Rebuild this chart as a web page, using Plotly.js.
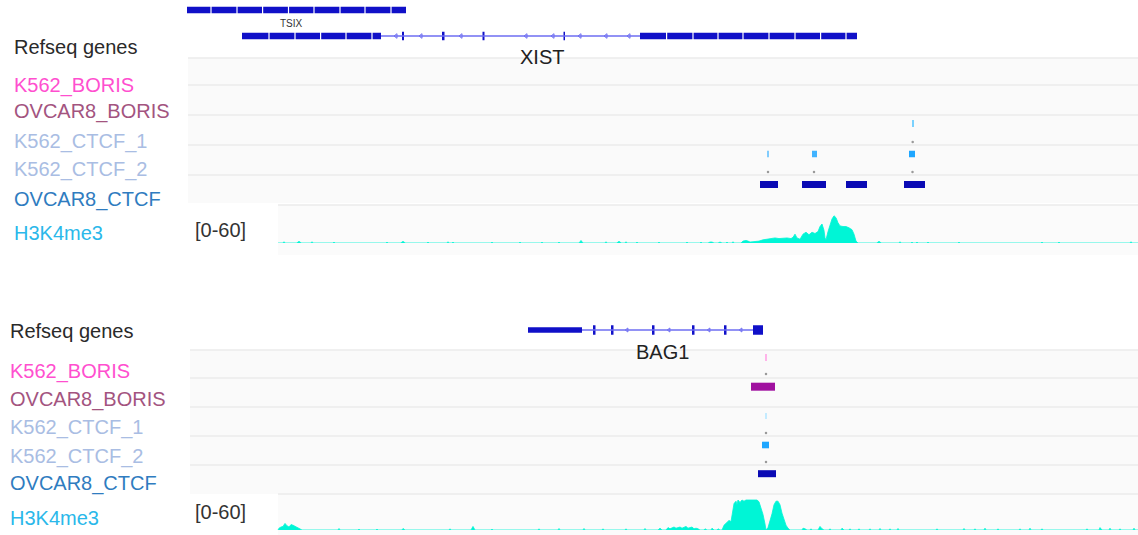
<!DOCTYPE html>
<html><head><meta charset="utf-8">
<script src="https://cdn.plot.ly/plotly-3.0.1.min.js"></script>
<style>html,body{margin:0;padding:0;background:#fff}#chart{width:1138px;height:535px}</style>
</head><body><div id="chart"></div>
<script>
// ---------------- DATA (positions along each locus) ----------------
const trackNames = ["K562_BORIS","OVCAR8_BORIS","K562_CTCF_1","K562_CTCF_2","OVCAR8_CTCF"];
const signalName = "H3K4me3";
const signalRange = "[0-60]";

// Locus 1: XIST / TSIX
const tsixThickStart = [187];
const tsixThickEnd   = [406];
const tsixArrows     = [211,237,262.6,288.5,314,340,365,391];
const xistThickStart = [242,640];
const xistThickEnd   = [381,857];
const xistExonStart  = [402,442,482.5,563.5];
const xistExonEnd    = [404,444.5,484.5,565];
const xistIntron     = [381,640];
const xistStrandArrows = [269,295,320.6,346,372,666.6,693,718,743,769,795,820.6,846];
const xistIntronArrows = [396,421,461,526,553,580,606,629];

const top_K562_BORIS_start = [], top_K562_BORIS_end = [];
const top_OVCAR8_BORIS_start = [], top_OVCAR8_BORIS_end = [];
const top_K562_CTCF_1_start = [912], top_K562_CTCF_1_end = [914], top_K562_CTCF_1_score = [0.75];
const top_K562_CTCF_2_start = [767,812,909], top_K562_CTCF_2_end = [769,817,915], top_K562_CTCF_2_score = [0.55,0.85,1];
const top_OVCAR8_CTCF_start = [760,802,846,904], top_OVCAR8_CTCF_end = [778,826,867,925];
const topSummitsCTCF1 = [912.7];
const topSummitsCTCF2 = [768,814,912.5];

const topSignalPos = [278,283,284,285,289,297,298,300,301,311,312,313,333,334,335,386,387,388,401,402,404,405,427,428,429,447,448,449,452,453,454,491,492,493,519,520,521,541,542,543,558,559,560,579,581,583,605,606,607,617,618,620,621,625,626,627,636,637,638,658,659,660,686,687,688,700,701,702,
  708,710,712,714,718,720,722,726,727,728,732,733,734,741,743,746,748,750,753,756,759,763,767,771,775,779,783,787,791,793,795,797,800,803,806,809,812,815,818,820,822,824,825,826,828,830,832,834,836,838,840,843,846,849,852,854,856,858,
  877,878,880,881,899,900,901,911,912,913,916,917,918,927,928,929,958,959,960,1041,1042,1043,1058,1059,1060,1130,1131,1132,1138];
const topSignalVal = [0,0,2,0,0,0,2,2,0,0,2,0,0,1.5,0,0,1.5,0,0,2,2,0,0,1.5,0,0,2,0,0,1.5,0,0,1.5,0,0,1.5,0,0,1.5,0,0,1.5,0,0,4,0,0,2,0,0,2,2,0,0,2,0,0,1.5,0,0,1.5,0,0,1.5,0,0,1.5,0,
  0,1.5,1.5,0,0,1.5,0,0,1.5,0,0,2,0,0,3,4,3,1.5,2,2,3,5,6,7,8,7,8,8,7,9,14,8,6,14,17,13,17,15,18,26,30,20,8,5,18,30,38,43,40,32,27,26,26,24,21,14,3,0,
  0,2,2,0,0,2,0,0,1.5,0,0,1.5,0,0,1.5,0,0,1.5,0,0,1.5,0,0,1.5,0,0,2,0,0];

// Locus 2: BAG1
const bag1UtrStart  = [528];
const bag1UtrEnd    = [582];
const bag1ExonStart = [593,611,652,692,724,753];
const bag1ExonEnd   = [595.5,613.5,654.5,694.5,726.5,763];
const bag1Intron    = [582,753];
const bag1IntronArrows = [627,669,709,741];

const bot_K562_BORIS_start = [765], bot_K562_BORIS_end = [767];
const bot_OVCAR8_BORIS_start = [751], bot_OVCAR8_BORIS_end = [775];
const bot_K562_CTCF_1_start = [765], bot_K562_CTCF_1_end = [767];
const bot_K562_CTCF_2_start = [762], bot_K562_CTCF_2_end = [769];
const bot_OVCAR8_CTCF_start = [758], bot_OVCAR8_CTCF_end = [776];
const botSummitsBORIS = [766], botSummitsCTCF1 = [766], botSummitsCTCF2 = [766];

const botSignalPos = [278,279,281,283,285,287,289,291,293,295,297,299,302,338,339,340,358,359,360,376,377,378,402,403,405,449,450,451,471,473,475,491,492,493,538,539,540,558,559,560,583,584,585,602,603,604,625,626,627,644,645,646,
  658,660,662,666,668,670,672,674,676,678,680,682,684,686,688,690,692,694,696,698,700,704,705,707,711,712,714,717,718,720,
  722,724,727,729,731,733,734,736,737,738,740,742,744,746,750,754,757,759,761,763,765,766,768,770,772,774,776,778,780,782,784,786,788,790,
  802,803,805,807,810,811,812,818,820,822,824,829,830,831,841,842,844,849,850,851,858,859,860,869,870,871,879,880,881,889,890,891,897,898,899,936,937,938,963,964,965,974,975,976,984,985,986,997,998,999,1019,1020,1021,1029,1030,1031,1041,1042,1043,1086,1087,1088,1099,1100,1102,1109,1110,1111,1119,1120,1121,1133,1134,1135,1138];
const botSignalVal = [0,3,5,6,11,7,5,9,8,6,4,2,0,0,2.5,0,0,1.5,0,0,1.5,0,0,2.5,0,0,2,0,0,6,0,0,1.5,0,0,2,0,0,2.5,0,0,2.5,0,0,2,0,0,2,0,0,2.5,0,
  0,3,0,0,4,2,3,5,3,4,5,3,4,6,3,4,5,2,3,2,0,0,2,0,0,3,0,0,2,0,
  0,8,12,16,14,30,44,48,42,50,46,50,48,50,50,50,50,47,38,26,10,0,4,14,27,42,48,48,42,28,16,8,3,0,
  0,3,2,0,0,2,0,0,6,2,0,0,2,0,0,3,0,0,2,0,0,2,0,0,2,0,0,2.5,0,0,2,0,0,2.5,0,0,2,0,0,2.5,0,0,2,0,0,3,0,0,2,0,0,2,0,0,3,0,0,2,0,0,2,0,0,4,0,0,3,0,0,2,0,0,3,0,0];

// ---------------- STYLE / LAYOUT ----------------
const W = 1138, H = 535;
const FONT = "Liberation Sans, Arial, sans-serif";
const GENE = "#1010c8", INTRON = "#6e6ef2", SIG = "#00f5d6";
const labelColors = {"Refseq genes":"#2a2a2a","K562_BORIS":"#ff4fcf","OVCAR8_BORIS":"#a3547f",
  "K562_CTCF_1":"#a9bde3","K562_CTCF_2":"#a9bde3","OVCAR8_CTCF":"#2f7cc0","H3K4me3":"#2ab8ea"};
const featColors = {"K562_BORIS":"#ffb4ea","OVCAR8_BORIS":"#a0109f","K562_CTCF_1":"#4fc3ff","K562_CTCF_2":"#1ea6ff","OVCAR8_CTCF":"#0a0ab4"};

const panels = [
  {xa:'x', labelX:12, geneLabelY:46.7, labelY:[85,111.7,141.7,169.3,199.3], sigLabelY:232.7, rangeY:230,
   rows:[[58,85],[85,115],[115,145],[145,175],[175,203]], rowX:188, sigRow:[205,255], sigBase:243, sigTop:205,
   featY:[0,0,123.5,154,184.5], featH:[7,8,7,6.5,7]},
  {xa:'x2', labelX:8, geneLabelY:330.7, labelY:[371.7,399.3,427.3,456,483.3], sigLabelY:518.3, rangeY:512,
   rows:[[350,378],[378,407],[407,436],[436,465],[465,494]], rowX:190, sigRow:[494,535], sigBase:530, sigTop:494,
   featY:[357.5,386.7,416,445,473.7], featH:[7,8,6,6.6,7]}
];

const traces = [];
function bars(xa, starts, ends, yc, h, color, opac){
  traces.push({type:'bar', orientation:'h', xaxis:xa, yaxis:'y', base:starts,
    x:starts.map((s,i)=>ends[i]-s), y:starts.map(()=>yc), width:h,
    marker:{color:color, opacity:opac||1, line:{width:0}}, hoverinfo:'skip', showlegend:false});
}
function line(xa, pts, yc, color, w){
  traces.push({type:'scatter', mode:'lines', xaxis:xa, yaxis:'y', x:pts, y:pts.map(()=>yc),
    line:{color:color, width:w}, hoverinfo:'skip', showlegend:false});
}
function marks(xa, pts, yc, sym, size, color, lw){
  traces.push({type:'scatter', mode:'markers', xaxis:xa, yaxis:'y', x:pts, y:pts.map(()=>yc),
    marker:{symbol:sym, size:size, color:color, line:{color:color, width:lw}}, hoverinfo:'skip', showlegend:false});
}

// Genes, locus 1
bars('x', tsixThickStart, tsixThickEnd, 10, 6.5, GENE);
marks('x', tsixArrows, 10, 'line-ns', 6, '#ffffff', 1.2);
line('x', xistIntron, 36, INTRON, 1.6);
marks('x', xistIntronArrows, 36, 'triangle-left-open', 4, INTRON, 1);
bars('x', xistThickStart, xistThickEnd, 36, 6.5, GENE);
bars('x', xistExonStart, xistExonEnd, 36, 8.5, GENE);
marks('x', xistStrandArrows, 36, 'line-ns', 6, '#ffffff', 1.2);

// Genes, locus 2
line('x2', bag1Intron, 330, INTRON, 1.6);
marks('x2', bag1IntronArrows, 330, 'triangle-left-open', 3.5, INTRON, 1);
bars('x2', bag1UtrStart, bag1UtrEnd, 330, 5.5, GENE);
bars('x2', bag1ExonStart, bag1ExonEnd, 330, 9.5, GENE);

// Peak tracks
const P = panels;
const topTracks = [[top_K562_BORIS_start,top_K562_BORIS_end,null],[top_OVCAR8_BORIS_start,top_OVCAR8_BORIS_end,null],
  [top_K562_CTCF_1_start,top_K562_CTCF_1_end,top_K562_CTCF_1_score],[top_K562_CTCF_2_start,top_K562_CTCF_2_end,top_K562_CTCF_2_score],
  [top_OVCAR8_CTCF_start,top_OVCAR8_CTCF_end,null]];
const botTracks = [[bot_K562_BORIS_start,bot_K562_BORIS_end,null],[bot_OVCAR8_BORIS_start,bot_OVCAR8_BORIS_end,null],
  [bot_K562_CTCF_1_start,bot_K562_CTCF_1_end,null],[bot_K562_CTCF_2_start,bot_K562_CTCF_2_end,null],
  [bot_OVCAR8_CTCF_start,bot_OVCAR8_CTCF_end,null]];
[topTracks, botTracks].forEach((tr, pi)=>{
  tr.forEach((t, i)=>{
    if(!t[0].length) return;
    let col = featColors[trackNames[i]];
    if(pi===1 && i===2) col = '#c4ebff';
    traces.push({type:'bar', orientation:'h', xaxis:P[pi].xa, yaxis:'y', base:t[0],
      x:t[0].map((s,k)=>t[1][k]-s), y:t[0].map(()=>P[pi].featY[i]), width:P[pi].featH[i],
      marker:{color:col, opacity:t[2]?t[2]:1, line:{width:0}}, hoverinfo:'skip', showlegend:false});
  });
});
marks('x', topSummitsCTCF1, 142, 'circle', 2.5, '#9a9a9a', 0);
marks('x', topSummitsCTCF2, 172, 'circle', 2.5, '#9a9a9a', 0);
marks('x2', botSummitsBORIS, 374, 'circle', 2.5, '#9a9a9a', 0);
marks('x2', botSummitsCTCF1, 433, 'circle', 2.5, '#9a9a9a', 0);
marks('x2', botSummitsCTCF2, 462, 'circle', 2.5, '#9a9a9a', 0);

// Signal tracks
traces.push({type:'scatter', mode:'lines', xaxis:'x', yaxis:'y3', x:topSignalPos, y:topSignalVal,
  fill:'tozeroy', fillcolor:SIG, line:{color:SIG, width:0.8}, hoverinfo:'skip', showlegend:false});
traces.push({type:'scatter', mode:'lines', xaxis:'x2', yaxis:'y4', x:botSignalPos, y:botSignalVal,
  fill:'tozeroy', fillcolor:SIG, line:{color:SIG, width:0.8}, hoverinfo:'skip', showlegend:false});

// Backgrounds, labels
const shapes = [], annotations = [];
P.forEach(p=>{
  p.rows.forEach(r=>{
    shapes.push({type:'rect', layer:'below', xref:'paper', yref:'y', x0:p.rowX/W, x1:1, y0:r[0], y1:r[1],
      fillcolor:'#fafafa', line:{width:0}});
    shapes.push({type:'line', layer:'below', xref:'paper', yref:'y', x0:p.rowX/W, x1:1, y0:r[0], y1:r[0],
      line:{color:'#ebebeb', width:1.5}});
  });
  shapes.push({type:'rect', layer:'below', xref:'paper', yref:'y', x0:278/W, x1:1, y0:p.sigRow[0], y1:p.sigRow[1],
    fillcolor:'#fbfbfb', line:{width:0}});
  shapes.push({type:'line', layer:'below', xref:'paper', yref:'y', x0:278/W, x1:1, y0:p.sigRow[0], y1:p.sigRow[0],
    line:{color:'#ebebeb', width:1.5}});
  const lab = (txt, y, col)=>annotations.push({xref:'paper', yref:'y', x:p.labelX/W, y:y, xanchor:'left', yanchor:'middle',
    text:txt, showarrow:false, font:{family:FONT, size:20, color:col}});
  lab("Refseq genes", p.geneLabelY, labelColors["Refseq genes"]);
  trackNames.forEach((n,i)=>lab(n, p.labelY[i], labelColors[n]));
  lab(signalName, p.sigLabelY, labelColors[signalName]);
  annotations.push({xref:'paper', yref:'y', x:220/W, y:p.rangeY, xanchor:'center', yanchor:'middle',
    text:signalRange, showarrow:false, font:{family:FONT, size:20, color:'#333333'}});
});
annotations.push({xref:'x', yref:'y', x:291, y:23, text:'TSIX', showarrow:false, xanchor:'center', yanchor:'middle',
  font:{family:FONT, size:10, color:'#333333'}});
annotations.push({xref:'x', yref:'y', x:541.5, y:57, text:'XIST', showarrow:false, xanchor:'center', yanchor:'middle',
  font:{family:FONT, size:20, color:'#222222'}});
annotations.push({xref:'x2', yref:'y', x:662.5, y:352, text:'BAG1', showarrow:false, xanchor:'center', yanchor:'middle',
  font:{family:FONT, size:20, color:'#222222'}});

const ax = {domain:[0,1], range:[0,W], visible:false, fixedrange:true, showgrid:false, zeroline:false};
const layout = {
  width:W, height:H, margin:{l:0,r:0,t:0,b:0}, paper_bgcolor:'#ffffff', plot_bgcolor:'rgba(0,0,0,0)',
  barmode:'overlay', showlegend:false,
  xaxis:Object.assign({}, ax, {anchor:'y'}),
  xaxis2:Object.assign({}, ax, {anchor:'y4'}),
  yaxis:{domain:[0,1], range:[H,0], visible:false, fixedrange:true, anchor:'x'},
  yaxis3:{domain:[1-P[0].sigBase/H, 1-P[0].sigTop/H], range:[0,60], visible:false, fixedrange:true, anchor:'x'},
  yaxis4:{domain:[1-P[1].sigBase/H, 1-P[1].sigTop/H], range:[0,60], visible:false, fixedrange:true, anchor:'x2'},
  shapes:shapes, annotations:annotations
};
Plotly.newPlot('chart', traces, layout, {staticPlot:true, displayModeBar:false});
</script></body></html>
